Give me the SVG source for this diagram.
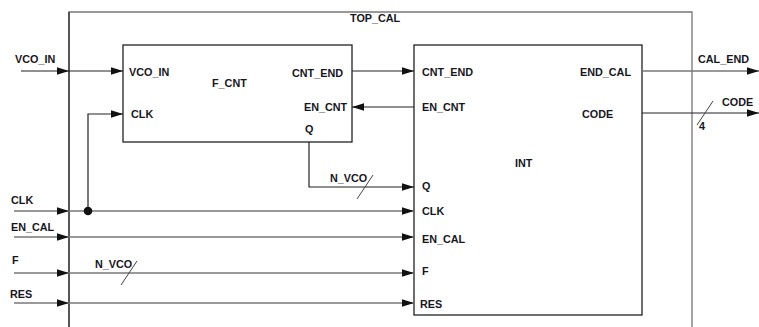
<svg xmlns="http://www.w3.org/2000/svg" width="759" height="327" viewBox="0 0 759 327">
  <defs>
    <marker id="arr" markerUnits="userSpaceOnUse" markerWidth="12" markerHeight="8" refX="12" refY="4" orient="auto">
      <path d="M0,0.3 L12,4 L0,7.7 Z" fill="#111"/>
    </marker>
  </defs>
  <style>
    text { font-family: "Liberation Sans", Arial, sans-serif; font-weight: bold; font-size: 10.8px; fill: #161622; }
    .box { fill: none; stroke: #222; stroke-width: 1.3; }
    .w { fill: none; stroke: #222; stroke-width: 1.2; }
    .g { fill: none; stroke: #777; stroke-width: 1.3; }
    .a { marker-end: url(#arr); }
    .sl { stroke: #444; stroke-width: 1; }
  </style>
  <rect width="759" height="327" fill="#fff"/>

  <!-- top-level frame -->
  <g id="top_cal">
    <path d="M69,327 L69,12 L692,12 L692,327" class="g"/>
    <path d="M69,327 L69,12" class="w"/>
    <text x="350" y="22">TOP_CAL</text>
  </g>

  <!-- counter block -->
  <g id="f_cnt">
    <rect x="123" y="45" width="229" height="97" class="box"/>
    <text x="212" y="87">F_CNT</text>
    <text x="129" y="76">VCO_IN</text>
    <text x="131" y="118">CLK</text>
    <text x="292" y="77">CNT_END</text>
    <text x="304" y="111">EN_CNT</text>
    <text x="305" y="133">Q</text>
  </g>

  <!-- integrator block -->
  <g id="int">
    <rect x="414" y="45" width="228" height="270" class="box"/>
    <text x="515" y="167">INT</text>
    <text x="422" y="76">CNT_END</text>
    <text x="422" y="111">EN_CNT</text>
    <text x="580" y="76">END_CAL</text>
    <text x="582" y="118">CODE</text>
    <text x="422" y="190">Q</text>
    <text x="422" y="215">CLK</text>
    <text x="422" y="243">EN_CAL</text>
    <text x="422" y="275">F</text>
    <text x="420" y="308">RES</text>
  </g>

  <!-- port labels outside the frame -->
  <g id="ports">
    <text x="15" y="63">VCO_IN</text>
    <text x="11" y="204">CLK</text>
    <text x="11" y="231">EN_CAL</text>
    <text x="12" y="264">F</text>
    <text x="10" y="298">RES</text>
    <text x="698" y="63">CAL_END</text>
    <text x="722" y="106">CODE</text>
    <text x="699" y="130">4</text>
  </g>

  <!-- wiring -->
  <g id="connectors">
    <!-- VCO_IN -->
    <path d="M21,71 L69,71" class="w a"/>
    <path d="M69,71 L123,71" class="w a"/>
    <!-- CLK with branch to F_CNT -->
    <path d="M14,211 L69,211" class="g a"/>
    <path d="M69,211 L414,211" class="g a"/>
    <path d="M88,211 L88,114 L123,114" class="w a"/>
    <circle cx="88" cy="211" r="4.3" fill="#111"/>
    <!-- EN_CAL -->
    <path d="M14,237 L69,237" class="g a"/>
    <path d="M69,237 L414,237" class="g a"/>
    <!-- F bus -->
    <path d="M14,273 L69,273" class="g a"/>
    <path d="M69,273 L414,273" class="g a"/>
    <line x1="121" y1="285" x2="137" y2="261" class="sl"/>
    <text x="95" y="268">N_VCO</text>
    <!-- RES -->
    <path d="M14,303 L69,303" class="g a"/>
    <path d="M69,303 L414,303" class="g a"/>
    <!-- counter to integrator -->
    <path d="M352,71 L414,71" class="w a"/>
    <path d="M414,107 L352,107" class="w a"/>
    <path d="M309,142 L309,187 L414,187" class="w a"/>
    <line x1="357" y1="199" x2="373" y2="175" class="sl"/>
    <text x="330" y="182">N_VCO</text>
    <!-- outputs -->
    <path d="M642,71 L759,71" class="g a"/>
    <path d="M642,113 L759,113" class="w a"/>
    <line x1="697" y1="125" x2="713" y2="101" class="sl"/>
  </g>
</svg>
